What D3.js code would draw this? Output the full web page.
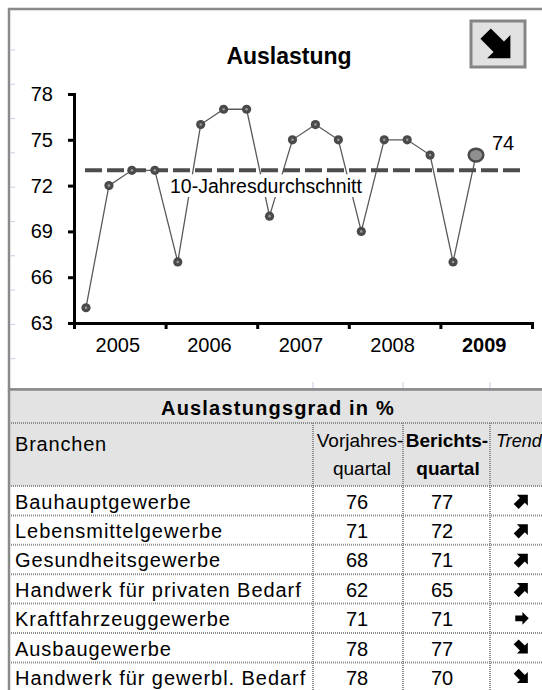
<!DOCTYPE html>
<html>
<head>
<meta charset="utf-8">
<script src="https://cdn.jsdelivr.net/npm/d3@7"></script>
<style>
body { margin: 0; background: #fff; }
text { font-family: "Liberation Sans", Arial, sans-serif; fill: #000; }
</style>
</head>
<body>
<div id="chart"></div>
<script>
// quarterly capacity utilisation (%)
var quarters = ["2005-1", "2005-2", "2005-3", "2005-4",
                "2006-1", "2006-2", "2006-3", "2006-4",
                "2007-1", "2007-2", "2007-3", "2007-4",
                "2008-1", "2008-2", "2008-3", "2008-4",
                "2009-1", "2009-2"];
var auslastung = [64, 72, 73, 73, 67, 76, 77, 77, 70, 75, 76, 75, 69, 75, 75, 74, 67, 74];
var durchschnitt = 73;
var years = [2005, 2006, 2007, 2008, 2009];
var yTicks = [63, 66, 69, 72, 75, 78];

// table
var branchen = ["Bauhauptgewerbe", "Lebensmittelgewerbe", "Gesundheitsgewerbe",
                "Handwerk für privaten Bedarf", "Kraftfahrzeuggewerbe", "Ausbaugewerbe",
                "Handwerk für gewerbl. Bedarf"];
var vorjahr = [76, 71, 68, 62, 71, 78, 78];
var bericht = [77, 72, 71, 65, 71, 77, 70];

var svgWidth = 542;
var svgHeight = 690;

var svg = d3.select("#chart")
    .append("svg")
    .attr("width", svgWidth)
    .attr("height", svgHeight);

// outer frame of the chart area
svg.append("rect")
    .attr("x", 9).attr("y", 9)
    .attr("width", 545).attr("height", 380.5)
    .attr("fill", "#fff")
    .attr("stroke", "#8a8a8a")
    .attr("stroke-width", 2.5);

// faint sheet gridline stubs on the left
svg.selectAll(".stub")
    .data(d3.range(50, 360, 34.3))
    .enter()
    .append("line")
    .attr("x1", 10.5).attr("x2", 15)
    .attr("y1", d => d).attr("y2", d => d)
    .attr("stroke", "#c6cde2")
    .attr("stroke-width", 1);

// scales
var y = d3.scaleLinear().domain([63, 78]).range([323, 94]);
var x = d3.scalePoint().domain(quarters).range([86, 476]);
var xYear = d3.scaleLinear().domain([2005, 2010]).range([74, 532]);

// title
svg.append("text")
    .attr("x", 289).attr("y", 64)
    .attr("text-anchor", "middle")
    .style("font-size", "23px")
    .style("font-weight", "bold")
    .text("Auslastung");

// y axis
var leftAxis = d3.axisLeft(y)
    .tickValues(yTicks)
    .tickSize(6)
    .tickSizeOuter(0)
    .tickPadding(15);

var yAxisG = svg.append("g")
    .attr("transform", "translate(74,0)")
    .call(leftAxis);
yAxisG.select(".domain").attr("stroke", "#000").attr("stroke-width", 3).attr("stroke-linecap", "square");
yAxisG.selectAll(".tick line").attr("stroke", "#000").attr("stroke-width", 3);
yAxisG.selectAll(".tick text")
    .style("font-size", "20px")
    .style("font-family", "'Liberation Sans', Arial, sans-serif")
    .attr("fill", "#000");

// x axis (year separators)
var bottomAxis = d3.axisBottom(xYear)
    .tickValues(years.concat([2010]))
    .tickSize(6)
    .tickSizeOuter(0)
    .tickFormat("");

var xAxisG = svg.append("g")
    .attr("transform", "translate(0,323)")
    .call(bottomAxis);
xAxisG.select(".domain").attr("stroke", "#000").attr("stroke-width", 3).attr("stroke-linecap", "square");
xAxisG.selectAll(".tick line").attr("stroke", "#000").attr("stroke-width", 3);

svg.selectAll(".yearLabel")
    .data(years)
    .enter()
    .append("text")
    .attr("x", d => xYear(d + 0.5) - 2)
    .attr("y", 352)
    .attr("text-anchor", "middle")
    .style("font-size", "20px")
    .style("font-weight", d => d === 2009 ? "bold" : "normal")
    .text(d => d);

// data line
var line = d3.line()
    .x((d, i) => x(quarters[i]))
    .y(d => y(d));

svg.append("path")
    .datum(auslastung)
    .attr("d", line)
    .attr("fill", "none")
    .attr("stroke", "#5a5a5a")
    .attr("stroke-width", 1.3);

// label for the 10-year average, with white box
var avgLabel = svg.append("g");
var avgText = avgLabel.append("text")
    .attr("x", 170).attr("y", 193)
    .style("font-size", "19.5px")
    .text("10-Jahresdurchschnitt");
var bb = avgText.node().getBBox();
avgLabel.insert("rect", "text")
    .attr("x", bb.x - 2).attr("y", y(durchschnitt) + 4)
    .attr("width", bb.width + 4)
    .attr("height", bb.y + bb.height - y(durchschnitt) - 4)
    .attr("fill", "#fff");

// average line
svg.append("line")
    .attr("x1", x(quarters[0]) - 1)
    .attr("x2", xYear(2010) - 12)
    .attr("y1", y(durchschnitt))
    .attr("y2", y(durchschnitt))
    .attr("stroke", "#4d4d4d")
    .attr("stroke-width", 4)
    .attr("stroke-dasharray", "17 5");

// markers
var last = auslastung.length - 1;
var pts = svg.selectAll(".pt")
    .data(auslastung.slice(0, last))
    .enter()
    .append("g")
    .attr("transform", (d, i) => `translate(${x(quarters[i])},${y(d)})`);
pts.append("circle").attr("r", 4.6).attr("fill", "#4a4a4a");
pts.append("circle").attr("r", 1.3).attr("fill", "#9a9a9a");

svg.append("ellipse")
    .attr("cx", x(quarters[last]))
    .attr("cy", y(auslastung[last]))
    .attr("rx", 7.3).attr("ry", 6.4)
    .attr("fill", "#8f8f8f")
    .attr("stroke", "#4a4a4a")
    .attr("stroke-width", 2.5);

svg.append("text")
    .attr("x", x(quarters[last]) + 16)
    .attr("y", y(auslastung[last]) - 5)
    .style("font-size", "20px")
    .text(auslastung[last]);

// bold arrow shape pointing right
function arrowPath(s) {
    var w = 0.21, h = 0.47, b = 0.03;
    return `M${-0.5 * s},${-w * s}L${b * s},${-w * s}L${b * s},${-h * s}` +
           `L${0.5 * s},0L${b * s},${h * s}L${b * s},${w * s}L${-0.5 * s},${w * s}Z`;
}

// trend button
svg.append("rect")
    .attr("x", 471).attr("y", 21)
    .attr("width", 54).attr("height", 46)
    .attr("fill", "#e1e1e1")
    .attr("stroke", "#858585")
    .attr("stroke-width", 3);
svg.append("path")
    .attr("d", arrowPath(35))
    .attr("transform", "translate(498,46) rotate(45)")
    .attr("fill", "#000");

// ---------- table ----------
var cols = [9, 313, 403, 490, 546];
var tableTop = 389.5;
var titleBottom = 423;
var headBottom = 486;

var rowScale = d3.scaleBand()
    .domain(branchen)
    .range([headBottom, headBottom + branchen.length * 29.4]);

svg.append("rect")
    .attr("x", 9).attr("y", tableTop)
    .attr("width", cols[4] - 9).attr("height", headBottom - tableTop)
    .attr("fill", "#e3e3e3");

// column stubs above table
svg.selectAll(".cstub")
    .data(cols.slice(1, 4))
    .enter()
    .append("line")
    .attr("x1", d => d).attr("x2", d => d)
    .attr("y1", 382).attr("y2", 388)
    .attr("stroke", "#c6cde2");

var gridStyle = function(sel) {
    sel.attr("stroke", "#8c8c8c")
       .attr("stroke-width", 2)
       .attr("stroke-dasharray", "1 1");
};

// horizontal row lines
svg.selectAll(".hline")
    .data([titleBottom, headBottom].concat(branchen.map(b => rowScale(b) + rowScale.bandwidth())))
    .enter()
    .append("line")
    .attr("x1", 9).attr("x2", cols[4])
    .attr("y1", d => d).attr("y2", d => d)
    .call(gridStyle);

// vertical column lines
svg.selectAll(".vline")
    .data(cols.slice(1, 4))
    .enter()
    .append("line")
    .attr("x1", d => d).attr("x2", d => d)
    .attr("y1", titleBottom).attr("y2", svgHeight)
    .call(gridStyle);

// chart bottom / table top and left border
svg.append("line")
    .attr("x1", 8).attr("x2", svgWidth)
    .attr("y1", tableTop).attr("y2", tableTop)
    .attr("stroke", "#8a8a8a").attr("stroke-width", 2.5);
svg.append("line")
    .attr("x1", 9).attr("x2", 9)
    .attr("y1", tableTop).attr("y2", svgHeight)
    .attr("stroke", "#8a8a8a").attr("stroke-width", 2.5);

// table title
svg.append("text")
    .attr("x", 278).attr("y", 415)
    .attr("text-anchor", "middle")
    .style("font-size", "20px")
    .style("font-weight", "bold")
    .style("letter-spacing", "1.2px")
    .text("Auslastungsgrad in %");

// header row
svg.append("text").attr("x", 15).attr("y", 451)
    .style("font-size", "20px").style("letter-spacing", "0.8px").text("Branchen");
svg.append("text").attr("x", 360).attr("y", 447).attr("text-anchor", "middle")
    .style("font-size", "19px").text("Vorjahres-");
svg.append("text").attr("x", 362).attr("y", 475).attr("text-anchor", "middle")
    .style("font-size", "19px").text("quartal");
svg.append("text").attr("x", 447).attr("y", 447).attr("text-anchor", "middle")
    .style("font-size", "19px").style("font-weight", "bold").text("Berichts-");
svg.append("text").attr("x", 448).attr("y", 475).attr("text-anchor", "middle")
    .style("font-size", "19px").style("font-weight", "bold").text("quartal");
svg.append("text").attr("x", 496).attr("y", 447)
    .style("font-size", "18px").style("font-style", "italic").text("Trend");

// body rows
var rows = svg.selectAll(".row")
    .data(branchen)
    .enter()
    .append("g")
    .attr("transform", d => `translate(0,${rowScale(d)})`);

rows.append("text")
    .attr("x", 15).attr("y", 22.5)
    .style("font-size", "20px")
    .style("letter-spacing", "0.95px")
    .text(d => d);

rows.append("text")
    .attr("x", 357).attr("y", 22.5)
    .attr("text-anchor", "middle")
    .style("font-size", "20px")
    .text((d, i) => vorjahr[i]);

rows.append("text")
    .attr("x", 442).attr("y", 22.5)
    .attr("text-anchor", "middle")
    .style("font-size", "20px")
    .text((d, i) => bericht[i]);

rows.append("path")
    .attr("d", (d, i) => arrowPath(bericht[i] === vorjahr[i] ? 13.5 : 16.5))
    .attr("transform", (d, i) => {
        var diff = bericht[i] - vorjahr[i];
        var rot = diff > 0 ? -45 : (diff < 0 ? 45 : 0);
        return `translate(522,${rowScale.bandwidth() / 2}) rotate(${rot})`;
    })
    .attr("fill", "#000");
</script>
</body>
</html>
